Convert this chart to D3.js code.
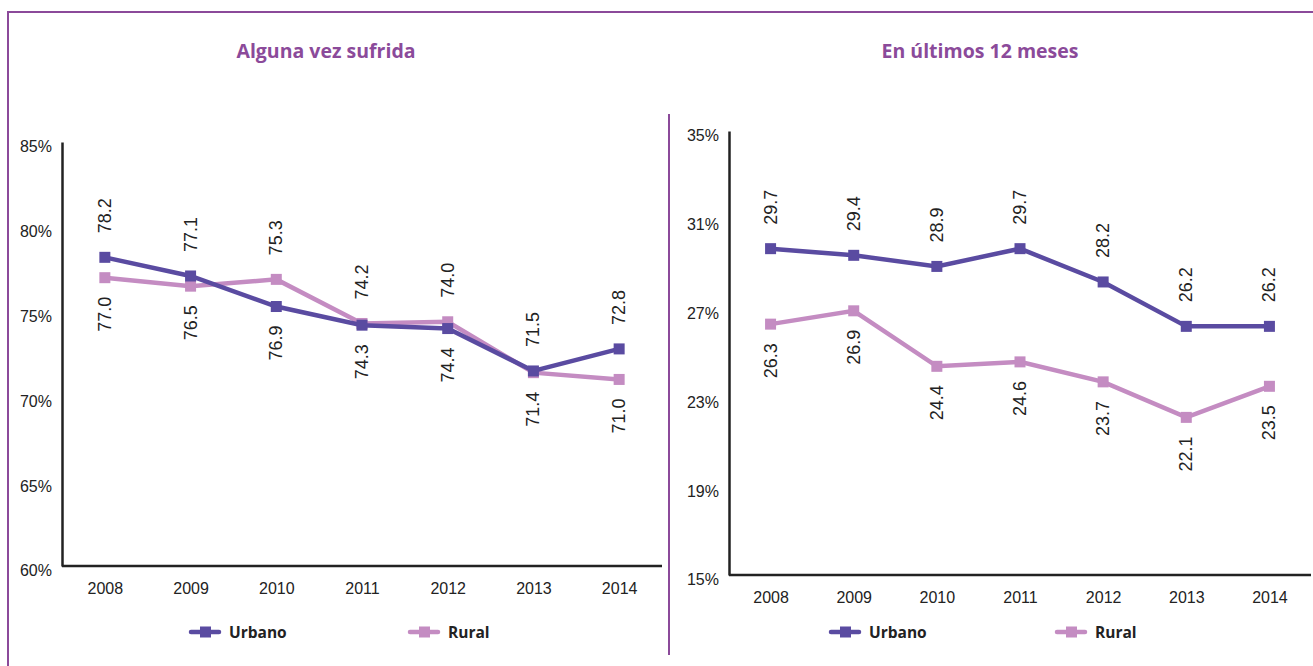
<!DOCTYPE html>
<html><head><meta charset="utf-8">
<script src="https://cdn.jsdelivr.net/npm/d3@7/dist/d3.min.js"></script>
<style>body{margin:0;background:#fff}svg{display:block}</style>
</head><body>
<svg id="c" width="1313" height="666"></svg>
<script>
const years = ["2008","2009","2010","2011","2012","2013","2014"];
const series = ["Urbano","Rural"];
const leftTitle = "Alguna vez sufrida";
const rightTitle = "En últimos 12 meses";
const leftUrbano = [78.2, 77.1, 75.3, 74.2, 74.0, 71.5, 72.8];
const leftRural  = [77.0, 76.5, 76.9, 74.3, 74.4, 71.4, 71.0];
const rightUrbano = [29.7, 29.4, 28.9, 29.7, 28.2, 26.2, 26.2];
const rightRural  = [26.3, 26.9, 24.4, 24.6, 23.7, 22.1, 23.5];
const leftTicks = [60, 65, 70, 75, 80, 85];
const rightTicks = [15, 19, 23, 27, 31, 35];

const colU = "#5a4ba1", colR = "#c48cc2", purple = "#8b4a9a", ink = "#222";
const svg = d3.select("#c");
const font = "'Liberation Sans', Arial, sans-serif";
const tfont = "'Open Sans', Lato, sans-serif";

// frame
svg.append("line").attr("x1",8).attr("y1",12).attr("x2",1313).attr("y2",12).attr("stroke",purple).attr("stroke-width",2);
svg.append("line").attr("x1",8).attr("y1",11).attr("x2",8).attr("y2",666).attr("stroke",purple).attr("stroke-width",2);
svg.append("line").attr("x1",669).attr("y1",114).attr("x2",669).attr("y2",655).attr("stroke",purple).attr("stroke-width",2);

function panel(cfg){
  const g = svg.append("g");
  const x = d3.scalePoint().domain(years).range([cfg.x0, cfg.x1]).padding(0.5);
  const y = d3.scaleLinear().domain(cfg.domain).range([cfg.y0, cfg.y1]);
  g.append("text").attr("x",cfg.titleX).attr("y",58).attr("text-anchor","middle")
    .attr("font-family",tfont).attr("font-weight","bold").attr("font-size",19.5).attr("fill",purple).text(cfg.title);
  // y axis
  const ya = g.append("g").attr("transform",`translate(${cfg.x0},0)`)
    .call(d3.axisLeft(y).tickValues(cfg.ticks).tickSize(0).tickPadding(10).tickFormat(d=>d+"%"));
  ya.select(".domain").attr("stroke",ink).attr("stroke-width",2.5);
  ya.selectAll("text").attr("font-family",font).attr("font-size",16).attr("fill",ink).attr("dy","0.62em");
  const xa = g.append("g").attr("transform",`translate(0,${cfg.y0})`)
    .call(d3.axisBottom(x).tickSize(0).tickPadding(17));
  xa.select(".domain").attr("stroke",ink).attr("stroke-width",2.5).attr("d",`M${cfg.x0},0H${cfg.x1}`);
  xa.selectAll("text").attr("font-family",font).attr("font-size",16).attr("fill",ink);

  const data = [{name:"Rural",vals:cfg.rural,col:colR},{name:"Urbano",vals:cfg.urbano,col:colU}];
  const line = d3.line().x((d,i)=>x(years[i])).y(d=>y(d));
  data.forEach(s=>{
    g.append("path").attr("d",line(s.vals)).attr("fill","none").attr("stroke",s.col).attr("stroke-width",4.5);
    g.selectAll(null).data(s.vals).enter().append("rect")
      .attr("x",(d,i)=>x(years[i])-5.5).attr("y",d=>y(d)-5.5).attr("width",11).attr("height",11).attr("fill",s.col);
  });
  // labels: urbano above the upper point, rural below the lower point
  years.forEach((yr,i)=>{
    const top = Math.min(y(cfg.urbano[i]), y(cfg.rural[i]));
    const bot = Math.max(y(cfg.urbano[i]), y(cfg.rural[i]));
    const cx = x(yr);
    g.append("text").attr("transform",`translate(${cx+6},${top-24}) rotate(-90)`)
      .attr("text-anchor","start").attr("font-family",font).attr("font-size",18).attr("fill",ink)
      .text(cfg.urbano[i].toFixed(1));
    g.append("text").attr("transform",`translate(${cx+6},${bot+19}) rotate(-90)`)
      .attr("text-anchor","end").attr("font-family",font).attr("font-size",18).attr("fill",ink)
      .text(cfg.rural[i].toFixed(1));
  });
  // legend
  cfg.legend.forEach((lx,k)=>{
    const col = k===0?colU:colR;
    g.append("line").attr("x1",lx).attr("x2",lx+28).attr("y1",632).attr("y2",632)
      .attr("stroke",col).attr("stroke-width",4.5).attr("stroke-linecap","round");
    g.append("rect").attr("x",lx+9).attr("y",626.5).attr("width",11).attr("height",11).attr("fill",col);
    g.append("text").attr("x",lx+38).attr("y",638).attr("font-family",tfont).attr("font-weight","bold")
      .attr("font-size",15.5).attr("fill",ink).text(series[k]);
  });
}

panel({title:leftTitle,titleX:326,x0:62,x1:662,y0:566,y1:142,domain:[60,85],ticks:leftTicks,
  urbano:leftUrbano,rural:leftRural,legend:[191,410]});
panel({title:rightTitle,titleX:980,x0:729,x1:1311,y0:575,y1:131,domain:[15,35],ticks:rightTicks,
  urbano:rightUrbano,rural:rightRural,legend:[831,1057]});
</script>
</body></html>
